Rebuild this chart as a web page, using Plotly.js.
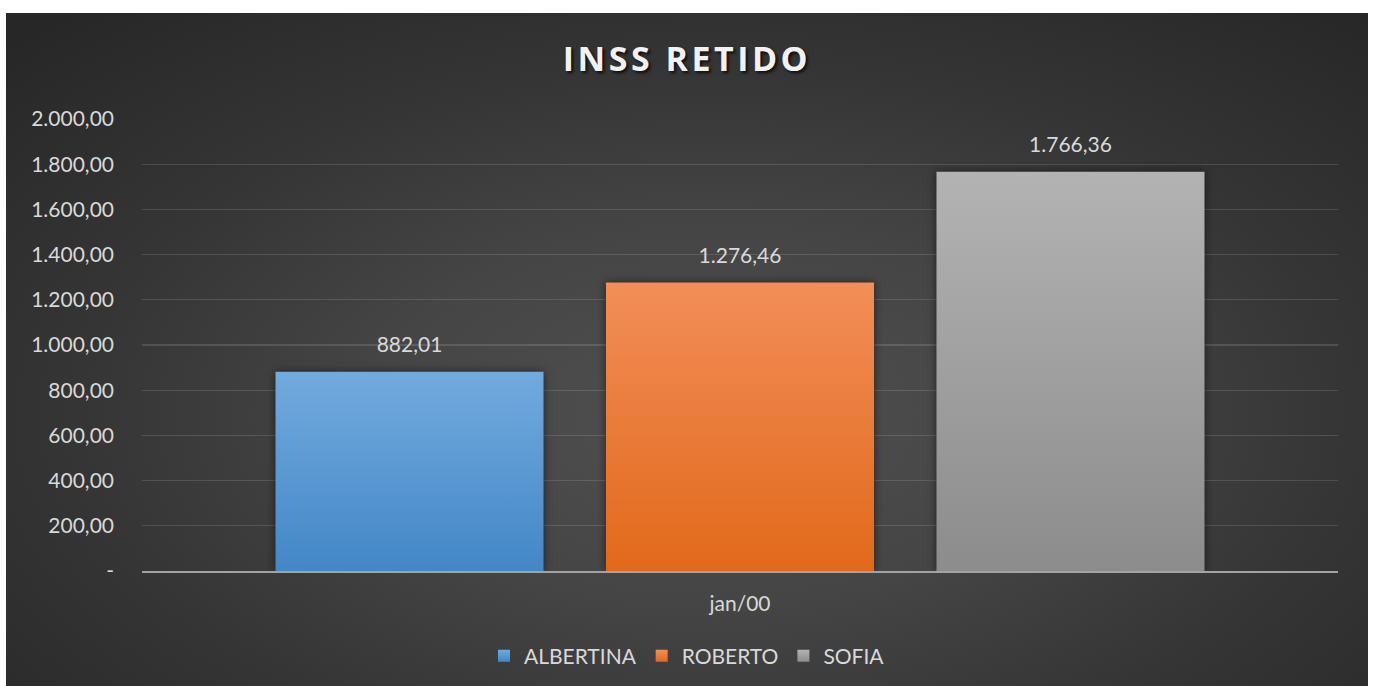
<!DOCTYPE html>
<html>
<head>
<meta charset="utf-8">
<script src="https://cdn.plot.ly/plotly-3.0.1.min.js"></script>
<style>
  html, body { margin: 0; padding: 0; background: #ffffff; width: 1375px; height: 686px; overflow: hidden; }
  #chart {
    position: absolute; left: 6px; top: 13px; width: 1362px; height: 673px;
    background: radial-gradient(ellipse 72% 80% at 52% 60%, #505050 0%, #454545 35%, #353535 65%, #272727 100%);
  }
  .gtitle { letter-spacing: 3.5px; }
  .barlayer .point path { filter: drop-shadow(0px 0px 4px rgba(0,0,0,0.55)); }
</style>
</head>
<body>
<div id="chart"></div>
<script>
// ---- data ----
const categories = ['jan/00'];
const seriesNames = ['ALBERTINA', 'ROBERTO', 'SOFIA'];
const albertina = [882.01];
const roberto = [1276.46];
const sofia = [1766.36];
const yTickVals = [0, 200, 400, 600, 800, 1000, 1200, 1400, 1600, 1800, 2000];
const yTickText = ['-', '200,00', '400,00', '600,00', '800,00', '1.000,00', '1.200,00', '1.400,00', '1.600,00', '1.800,00', '2.000,00'];

// ---- styles ----
const seriesValues = [albertina, roberto, sofia];
const baseColors = ['#5b9bd5', '#ed7d31', '#a5a5a5'];
const gradStops = [['#72aade', '#4387c7'], ['#f28e58', '#e2691b'], ['#b3b3b3', '#8c8c8c']];
const labelColor = '#d9d9d9';
const labelLift = 13;

const data = seriesNames.map((name, i) => ({
  type: 'bar', name: name, x: categories, y: seriesValues[i],
  marker: { color: baseColors[i], line: { width: 0 } },
  texttemplate: '%{y:,.2f}', textposition: 'outside',
  textfont: { family: 'Lato, sans-serif', size: 21, color: labelColor },
  cliponaxis: false, hoverinfo: 'skip'
}));

const layout = {
  width: 1362, height: 673,
  margin: { l: 136, r: 30, t: 106, b: 115, autoexpand: false },
  paper_bgcolor: 'rgba(0,0,0,0)', plot_bgcolor: 'rgba(0,0,0,0)',
  separators: ',.',
  barmode: 'group', bargap: 0.171, bargroupgap: 0.189,
  font: { family: 'Lato, sans-serif', color: labelColor },
  title: {
    text: 'INSS RETIDO', x: 0.5, xref: 'container', xanchor: 'center',
    y: 0.932, yref: 'container', yanchor: 'middle',
    font: { family: 'Open Sans, sans-serif', size: 34, weight: 700, color: '#f2f2f2', shadow: '2px 2px 3px rgba(0,0,0,0.75)' }
  },
  xaxis: {
    type: 'category', showgrid: false, zeroline: false,
    showline: true, linecolor: '#a3a3a3', linewidth: 2,
    ticks: '', ticklabelstandoff: 13, automargin: false,
    tickfont: { family: 'Lato, sans-serif', size: 21, color: labelColor },
    fixedrange: true
  },
  yaxis: {
    range: [0, 2000], tickmode: 'array', tickvals: yTickVals, ticktext: yTickText,
    showgrid: true, gridcolor: 'rgba(255,255,255,0.13)', gridwidth: 1.3,
    zeroline: false, showline: false, ticks: '', ticklabelstandoff: 27, automargin: false,
    tickfont: { family: 'Lato, sans-serif', size: 21, color: labelColor },
    fixedrange: true
  },
  legend: {
    orientation: 'h', x: 0.5, xref: 'container', xanchor: 'center',
    y: -0.188, yanchor: 'middle',
    font: { family: 'Lato, sans-serif', size: 21, color: labelColor },
    itemclick: false, itemdoubleclick: false
  },
  showlegend: true
};

Plotly.newPlot('chart', data, layout, { staticPlot: true, displayModeBar: false }).then(gd => {
  const ns = 'http://www.w3.org/2000/svg';
  const svg = gd.querySelector('svg.main-svg');
  let defs = svg.querySelector('defs');
  if (!defs) { defs = document.createElementNS(ns, 'defs'); svg.insertBefore(defs, svg.firstChild); }
  gradStops.forEach((stops, i) => {
    const lg = document.createElementNS(ns, 'linearGradient');
    lg.setAttribute('id', 'barGrad' + i);
    lg.setAttribute('x1', '0'); lg.setAttribute('y1', '0');
    lg.setAttribute('x2', '0'); lg.setAttribute('y2', '1');
    [[0, stops[0]], [1, stops[1]]].forEach(([off, col]) => {
      const s = document.createElementNS(ns, 'stop');
      s.setAttribute('offset', off);
      s.setAttribute('stop-color', col);
      lg.appendChild(s);
    });
    defs.appendChild(lg);
  });
  gd.querySelectorAll('.barlayer .trace.bars').forEach((t, i) => {
    t.querySelectorAll('.point path').forEach(p => { p.style.fill = 'url(#barGrad' + i + ')'; });
    t.querySelectorAll('.point text').forEach(tx => {
      const tr = tx.getAttribute('transform') || '';
      tx.setAttribute('transform', 'translate(0,' + (-labelLift) + ') ' + tr);
    });
  });
  gd.querySelectorAll('.legend .traces').forEach((t, i) => {
    t.querySelectorAll('.legendpoints path').forEach(p => { p.style.fill = 'url(#barGrad' + i + ')'; });
  });
});
</script>
</body>
</html>
